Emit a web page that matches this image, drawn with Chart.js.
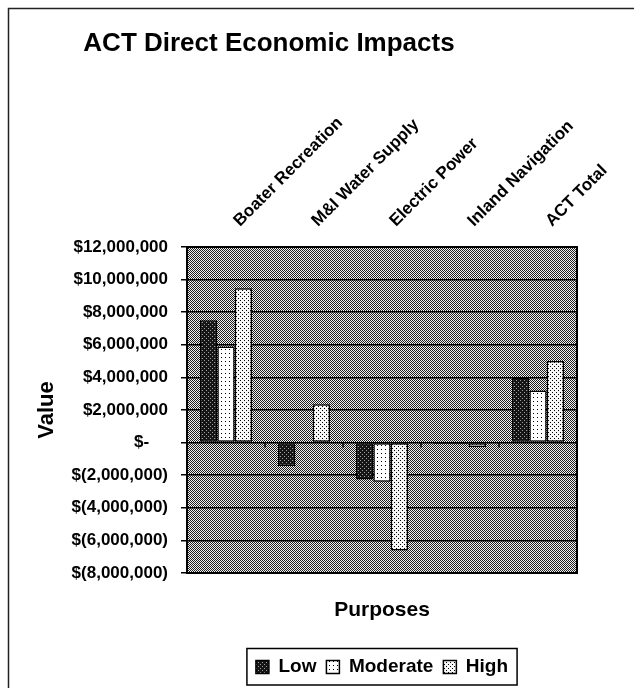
<!DOCTYPE html>
<html>
<head>
<meta charset="utf-8">
<script src="https://cdn.jsdelivr.net/npm/chart.js@4.4.1/dist/chart.umd.min.js"></script>
<style>
  html, body { margin: 0; padding: 0; background: #fff; }
  canvas { display: block; }
</style>
</head>
<body>
<canvas id="chart" width="634" height="688"></canvas>
<script>
// --- DATA ---
const purposes = ['Boater Recreation', 'M&I Water Supply', 'Electric Power', 'Inland Navigation', 'ACT Total'];
const lowImpact = [7500000, -1440000, -2260000, -80000, 4000000];
const moderateImpact = [5900000, -50000, -2400000, -100000, 3200000];
const highImpact = [9470000, 2350000, -6620000, -270000, 5000000];
const valueTicks = { min: -8000000, max: 12000000, step: 2000000 };

const FONT = '"Liberation Sans", Arial, Helvetica, sans-serif';
Chart.defaults.font.family = FONT;
Chart.defaults.color = '#000';

const canvas = document.getElementById('chart');
const ctx = canvas.getContext('2d');

// small bitmap tiles, like the old print fills
const tilePattern = (size, bg, fg, dots) => {
    const tile = document.createElement('canvas');
    tile.width = tile.height = size;
    const g = tile.getContext('2d');
    g.fillStyle = bg;
    g.fillRect(0, 0, size, size);
    g.fillStyle = fg;
    dots.forEach(([x, y]) => g.fillRect(x, y, 1, 1));
    return ctx.createPattern(tile, 'repeat');
};

const plotFill = tilePattern(2, '#f2f2f2', '#1e1e1e', [[0, 0], [1, 1]]);
const lowFill = tilePattern(4, '#151515', '#a0a0a0', [[0, 0], [2, 2]]);
const moderateFill = tilePattern(4, '#ffffff', '#000000', [[1, 1]]);
const highFill = tilePattern(4, '#f6f6f6', '#000000', [[0, 0], [2, 2]]);

const accounting = (v) => {
    if (v === 0) return '$-    ';
    const s = Math.abs(v).toLocaleString('en-US');
    return v < 0 ? `$(${s})` : `$${s}`;
};

// --- DECORATION: frame, plot fill, borders, legend box ---
const decor = {
    id: 'decor',
    afterLayout(chart) {
        const t = chart.titleBlock;
        if (t) { t.left = 0; t.right = 538; t.width = 538; }
    },
    beforeDraw(chart) {
        const { ctx, chartArea: a } = chart;
        ctx.save();
        ctx.fillStyle = '#fff';
        ctx.fillRect(0, 0, chart.width, chart.height);
        ctx.fillStyle = plotFill;
        ctx.fillRect(a.left, a.top, a.right - a.left, a.bottom - a.top);
        ctx.strokeStyle = '#222';
        ctx.lineWidth = 1.5;
        ctx.beginPath();
        ctx.moveTo(8.5, chart.height);
        ctx.lineTo(8.5, 8.5);
        ctx.lineTo(chart.width, 8.5);
        ctx.stroke();
        ctx.restore();
    },
    afterDraw(chart) {
        const { ctx, chartArea: a } = chart;
        ctx.save();
        ctx.strokeStyle = '#000';
        ctx.lineWidth = 2;
        ctx.strokeRect(a.left, a.top, a.right - a.left, a.bottom - a.top);

        // category tick marks on the zero line
        const x = chart.scales.x;
        const y0 = chart.scales.y.getPixelForValue(0);
        ctx.lineWidth = 1.5;
        ctx.beginPath();
        for (let i = 1; i < purposes.length; i++) {
            const px = (x.getPixelForValue(i - 1) + x.getPixelForValue(i)) / 2;
            ctx.moveTo(px, y0);
            ctx.lineTo(px, y0 + 5);
        }
        ctx.stroke();

        // legend frame
        const hb = chart.legend.legendHitBoxes;
        if (hb && hb.length) {
            const l = Math.min(...hb.map(b => b.left)) - 9;
            const r = Math.max(...hb.map(b => b.left + b.width)) + 9;
            const t = chart.legend.top + 1;
            const b = chart.legend.bottom - 1.5;
            ctx.lineWidth = 1.5;
            ctx.strokeRect(l, t, r - l, b - t);
        }
        ctx.restore();
    }
};

new Chart(ctx, {
    type: 'bar',
    data: {
        labels: purposes,
        datasets: [
            { label: 'Low', data: lowImpact, backgroundColor: lowFill },
            { label: 'Moderate', data: moderateImpact, backgroundColor: moderateFill },
            { label: 'High', data: highImpact, backgroundColor: highFill }
        ]
    },
    options: {
        responsive: false,
        animation: false,
        devicePixelRatio: 1,
        layout: { padding: { left: 0, right: 57, top: 0, bottom: 1.5 } },
        datasets: {
            bar: {
                borderColor: '#000',
                borderWidth: 1.5,
                borderSkipped: false,
                categoryPercentage: 0.667,
                barPercentage: 1
            }
        },
        scales: {
            x: {
                position: 'top',
                grid: { display: false, drawTicks: false },
                border: { display: false },
                ticks: {
                    autoSkip: false,
                    minRotation: 45,
                    maxRotation: 45,
                    padding: 16,
                    labelOffset: 25,
                    font: { size: 17, weight: 'bold' }
                },
                afterFit: s => { s.height = 187.8; }
            },
            x2: {
                type: 'category',
                position: 'bottom',
                grid: { display: false, drawTicks: false },
                border: { display: false },
                ticks: { display: false },
                title: {
                    display: true,
                    text: 'Purposes',
                    font: { size: 21, weight: 'bold' },
                    padding: { top: 0, bottom: 24.9 }
                },
                afterFit: s => { s.height = 74.5; }
            },
            y: {
                min: valueTicks.min,
                max: valueTicks.max,
                ticks: {
                    stepSize: valueTicks.step,
                    padding: 13,
                    font: { size: 17, weight: 'bold' },
                    callback: v => accounting(v)
                },
                grid: { color: '#000', lineWidth: 1.5, tickLength: 6 },
                border: { display: false },
                title: {
                    display: true,
                    text: 'Value',
                    font: { size: 22, weight: 'bold' },
                    padding: { top: 33.8, bottom: 0 }
                },
                afterFit: s => { s.width = 187; }
            }
        },
        plugins: {
            title: {
                display: true,
                text: 'ACT Direct Economic Impacts',
                color: '#000',
                font: { size: 26, weight: 'bold' },
                padding: { top: 28, bottom: 0 }
            },
            legend: {
                position: 'bottom',
                fullSize: false,
                labels: {
                    font: { size: 19, weight: 'bold' },
                    boxWidth: 13,
                    boxHeight: 13,
                    padding: 10
                }
            },
            tooltip: { enabled: false }
        }
    },
    plugins: [decor]
});
</script>
</body>
</html>
